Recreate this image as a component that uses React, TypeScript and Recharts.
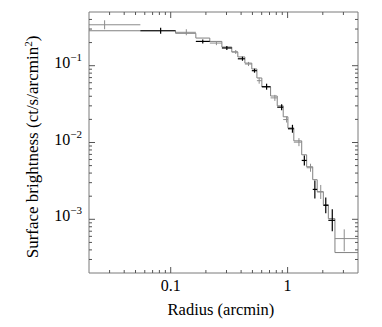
import { ComposedChart, XAxis, YAxis, Line, Scatter, ErrorBar, Label } from 'recharts'

// radial bins (arcmin), one more edge than bins
const binEdges = [
  0.02, 0.055, 0.11, 0.164, 0.216, 0.274, 0.333, 0.375, 0.431, 0.494, 0.546, 0.602, 0.715,
  0.815, 0.917, 1.006, 1.13, 1.32, 1.455, 1.64, 1.79, 2.02, 2.23, 2.54, 4.0,
]
// model surface brightness per bin
const modelSB = [
  0.285, 0.285, 0.264, 0.229, 0.207, 0.175, 0.151, 0.13, 0.108, 0.0906, 0.0692, 0.0528,
  0.0403, 0.03, 0.0216, 0.0155, 0.0105, 0.00692, 0.00483, 0.00328, 0.00229, 0.00155, 0.00102,
  0.000369,
]
// measured points
const dataR = [
  0.0272, 0.082, 0.136, 0.188, 0.246, 0.302, 0.36, 0.411, 0.463, 0.521, 0.571, 0.661, 0.778,
  0.889, 0.98, 1.1, 1.25, 1.39, 1.57, 1.71, 1.92, 2.12, 2.41, 3.05,
]
const dataSB = [
  0.341, 0.285, 0.272, 0.207, 0.197, 0.17, 0.151, 0.123, 0.105, 0.0861, 0.0638, 0.0533,
  0.0381, 0.0288, 0.0199, 0.0151, 0.0101, 0.00584, 0.00469, 0.00245, 0.00227, 0.00152,
  0.00097, 0.000561,
]
const dataHi = [
  0.39, 0.312, 0.298, 0.22, 0.209, 0.181, 0.16, 0.131, 0.112, 0.0914, 0.0698, 0.0583, 0.0417,
  0.0315, 0.0218, 0.017, 0.0114, 0.00678, 0.00529, 0.00321, 0.0028, 0.00193, 0.00135,
  0.00074,
]
const dataLo = [
  0.298, 0.261, 0.249, 0.195, 0.185, 0.16, 0.142, 0.116, 0.0989, 0.0811, 0.0583, 0.0487,
  0.0348, 0.0263, 0.0182, 0.0134, 0.00896, 0.00503, 0.00416, 0.00187, 0.00184, 0.0012,
  0.000698, 0.000384,
]
const dataTone = [
  'g', 'k', 'g', 'k', 'g', 'k', 'g', 'k', 'g', 'k', 'g', 'k', 'g', 'k', 'g', 'k', 'g', 'k',
  'g', 'k', 'g', 'k', 'k', 'g',
]

const xTicks = [
  0.03, 0.04, 0.05, 0.06, 0.07, 0.08, 0.09, 0.1, 0.2, 0.3, 0.4, 0.5, 0.6, 0.7, 0.8, 0.9, 1, 2, 3,
]
const yTicks = [
  3e-4, 4e-4, 5e-4, 6e-4, 7e-4, 8e-4, 9e-4, 1e-3, 2e-3, 3e-3, 4e-3, 5e-3, 6e-3, 7e-3, 8e-3, 9e-3,
  1e-2, 2e-2, 3e-2, 4e-2, 5e-2, 6e-2, 7e-2, 8e-2, 9e-2, 0.1, 0.2, 0.3, 0.4,
]

const FONT = '"Liberation Serif", "DejaVu Serif", serif'
const FRAME = '#7a7a7a'
const TICK = '#555'

const isMajor = (v: number) => Math.abs(Math.log10(v) - Math.round(Math.log10(v))) < 1e-6

const modelRows = binEdges.map((x, i) => ({ x, y: modelSB[Math.min(i, modelSB.length - 1)] }))
const dataRows = dataR.map((x, i) => ({
  x,
  y: dataSB[i],
  tone: dataTone[i],
  ex: [x - binEdges[i], binEdges[i + 1] - x],
  ey: [dataSB[i] - dataLo[i], dataHi[i] - dataSB[i]],
}))

function BottomTick({ x, y, payload }: any) {
  const major = isMajor(payload.value)
  return (
    <g>
      <line x1={x} x2={x} y1={y} y2={y - (major ? 6 : 3)} stroke={TICK} />
      {major && (
        <text x={x} y={y + 18} textAnchor="middle" fontFamily={FONT} fontSize={16} fill="#000">
          {payload.value}
        </text>
      )}
    </g>
  )
}

function TopTick({ x, y, payload }: any) {
  const major = isMajor(payload.value)
  return <line x1={x} x2={x} y1={y} y2={y + (major ? 6 : 3)} stroke={TICK} />
}

function LeftTick({ x, y, payload }: any) {
  const major = isMajor(payload.value)
  const exp = Math.round(Math.log10(payload.value))
  return (
    <g>
      <line x1={x} x2={x + (major ? 6 : 3)} y1={y} y2={y} stroke={TICK} />
      {major && (
        <text x={x - 7} y={y + 2} textAnchor="end" fontFamily={FONT} fontSize={16} fill="#000">
          10
          <tspan dy={-7} fontSize={11}>
            {'\u2212' + Math.abs(exp)}
          </tspan>
        </text>
      )}
    </g>
  )
}

function RightTick({ x, y, payload }: any) {
  const major = isMajor(payload.value)
  return <line x1={x} x2={x - (major ? 6 : 3)} y1={y} y2={y} stroke={TICK} />
}

const noMark = () => <g />

export default function App() {
  const black = dataRows.filter((d) => d.tone === 'k')
  const grey = dataRows.filter((d) => d.tone === 'g')
  return (
    <div style={{ position: 'absolute', left: 0, top: 0, width: 382, height: 327, background: '#fff' }}>
      <ComposedChart width={382} height={327} margin={{ top: 0, right: 0, bottom: 0, left: 0 }}>
        <XAxis
          xAxisId="b"
          dataKey="x"
          type="number"
          scale="log"
          domain={[0.02, 4]}
          allowDataOverflow
          ticks={xTicks}
          interval={0}
          tickSize={0}
          tickMargin={0}
          tickLine={false}
          tick={<BottomTick />}
          axisLine={{ stroke: FRAME }}
          height={54}
        >
          <Label
            content={() => (
              <text x={221} y={315} textAnchor="middle" fontFamily={FONT} fontSize={16.5} fill="#000">
                Radius (arcmin)
              </text>
            )}
          />
        </XAxis>
        <XAxis
          xAxisId="t"
          orientation="top"
          dataKey="x"
          type="number"
          scale="log"
          domain={[0.02, 4]}
          allowDataOverflow
          ticks={xTicks}
          interval={0}
          tickSize={0}
          tickMargin={0}
          tickLine={false}
          tick={<TopTick />}
          axisLine={{ stroke: FRAME }}
          height={12}
        />
        <YAxis
          yAxisId="l"
          dataKey="y"
          type="number"
          scale="log"
          domain={[2e-4, 0.5]}
          allowDataOverflow
          ticks={yTicks}
          interval={0}
          tickSize={0}
          tickMargin={0}
          tickLine={false}
          tick={<LeftTick />}
          axisLine={{ stroke: FRAME }}
          width={89}
        >
          <Label
            content={() => (
              <text
                x={38}
                y={147}
                transform="rotate(-90 38 147)"
                textAnchor="middle"
                fontFamily={FONT}
                fontSize={17}
                fill="#000"
              >
                Surface brightness (ct/s/arcmin
                <tspan dy={-6} fontSize={11}>
                  2
                </tspan>
                <tspan dy={6}>)</tspan>
              </text>
            )}
          />
        </YAxis>
        <YAxis
          yAxisId="r"
          orientation="right"
          dataKey="y"
          type="number"
          scale="log"
          domain={[2e-4, 0.5]}
          allowDataOverflow
          ticks={yTicks}
          interval={0}
          tickSize={0}
          tickMargin={0}
          tickLine={false}
          tick={<RightTick />}
          axisLine={{ stroke: FRAME }}
          width={24}
        />

        <Line
          xAxisId="b"
          yAxisId="l"
          data={modelRows}
          dataKey="y"
          type="stepAfter"
          stroke="#808080"
          strokeWidth={1}
          dot={false}
          activeDot={false}
          isAnimationActive={false}
        />
        <Scatter xAxisId="b" yAxisId="l" data={grey} dataKey="y" shape={noMark} isAnimationActive={false}>
          <ErrorBar dataKey="ex" direction="x" width={0} stroke="#8c8c8c" strokeWidth={1} isAnimationActive={false} />
          <ErrorBar dataKey="ey" direction="y" width={0} stroke="#8c8c8c" strokeWidth={1} isAnimationActive={false} />
        </Scatter>
        <Scatter xAxisId="b" yAxisId="l" data={black} dataKey="y" shape={noMark} isAnimationActive={false}>
          <ErrorBar dataKey="ex" direction="x" width={0} stroke="#000" strokeWidth={1.2} isAnimationActive={false} />
          <ErrorBar dataKey="ey" direction="y" width={0} stroke="#000" strokeWidth={1.2} isAnimationActive={false} />
        </Scatter>
      </ComposedChart>
    </div>
  )
}
